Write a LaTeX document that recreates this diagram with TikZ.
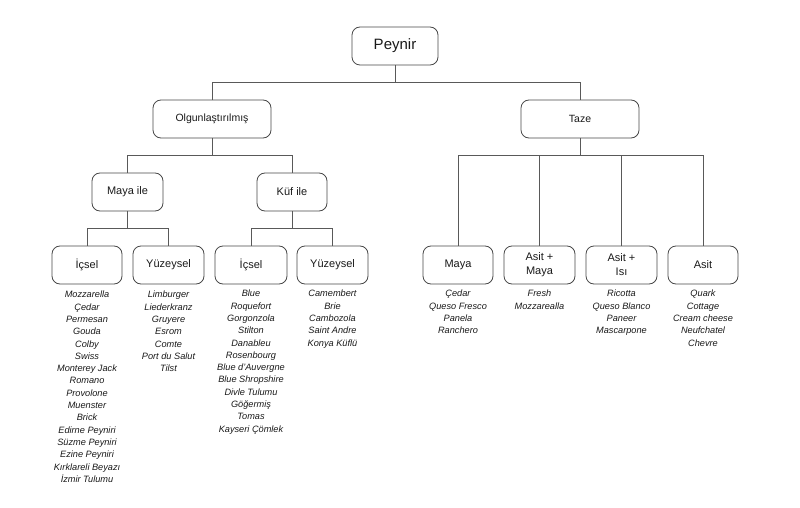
\documentclass[tikz,border=0pt]{standalone}
\usepackage{fontspec}
\setmainfont{Liberation Sans}
\begin{document}
\begin{tikzpicture}[x=1pt,y=-1pt,
  box/.style={draw=black!72, line width=0.8pt, rounded corners=8pt, minimum height=38pt, inner sep=1pt, align=center, font=\fontsize{11}{14}\selectfont, text=black!90},
  conn/.style={draw=black!65, line width=0.8pt},
  lst/.style={anchor=north, align=center, inner sep=0pt, font=\fontsize{9.2}{12.3}\selectfont\itshape, text=black!90}]
\useasboundingbox (0,0) rectangle (800,508);
% boxes
\node[box, minimum width=86pt, font=\fontsize{15}{18}\selectfont] (peynir) at (395,46) {Peynir};
\node[box, minimum width=118pt, font=\fontsize{10.5}{13}\selectfont] (olgun) at (212,119) {Olgunlaştırılmış};
\node[box, minimum width=118pt, font=\fontsize{10.5}{13}\selectfont] (taze) at (580,119) {Taze};
\node[box, minimum width=71pt] (mayaile) at (127.5,192) {Maya ile};
\node[box, minimum width=70pt] (kufile) at (292,192) {Küf ile};
\node[box, minimum width=70pt] (icsel1) at (87,265) {İçsel};
\node[box, minimum width=71pt] (yuz1) at (168.5,265) {Yüzeysel};
\node[box, minimum width=72pt] (icsel2) at (251,265) {İçsel};
\node[box, minimum width=71pt] (yuz2) at (332.5,265) {Yüzeysel};
\node[box, minimum width=70pt] (maya) at (458,265) {Maya};
\node[box, minimum width=71pt] (asitmaya) at (539.5,265) {Asit +\\Maya};
\node[box, minimum width=71pt] (asitisi) at (621.5,265) {Asit +\\Isı};
\node[box, minimum width=70pt] (asit) at (703,265) {Asit};
% connectors
\foreach \p/\c in {peynir/olgun, peynir/taze, olgun/mayaile, olgun/kufile, mayaile/icsel1, mayaile/yuz1, kufile/icsel2, kufile/yuz2, taze/maya, taze/asitmaya, taze/asitisi, taze/asit}
  \draw[conn] (\p.south) -- ++(0,17) -| (\c.north);
% lists
\node[lst] (l1) at (87,291) {Mozzarella\\Çedar\\Permesan\\Gouda\\Colby\\Swiss\\Monterey Jack\\Romano\\Provolone\\Muenster\\Brick\\Edirne Peyniri\\Süzme Peyniri\\Ezine Peyniri\\Kırklareli Beyazı\\İzmir Tulumu};
\node[lst] (l2) at (168.5,291) {Limburger\\Liederkranz\\Gruyere\\Esrom\\Comte\\Port du Salut\\Tilst};
\node[lst] (l3) at (251,290) {Blue\\Roquefort\\Gorgonzola\\Stilton\\Danableu\\Rosenbourg\\Blue d'Auvergne\\Blue Shropshire\\Divle Tulumu\\Göğermiş\\Tomas\\Kayseri Çömlek};
\node[lst] (l4) at (332.5,290) {Camembert\\Brie\\Cambozola\\Saint Andre\\Konya Küflü};
\node[lst] (l5) at (458,290) {Çedar\\Queso Fresco\\Panela\\Ranchero};
\node[lst] (l6) at (539.5,290) {Fresh\\Mozzarealla};
\node[lst] (l7) at (621.5,290) {Ricotta\\Queso Blanco\\Paneer\\Mascarpone};
\node[lst] (l8) at (703,290) {Quark\\Cottage\\Cream cheese\\Neufchatel\\Chevre};
\end{tikzpicture}
\end{document}
